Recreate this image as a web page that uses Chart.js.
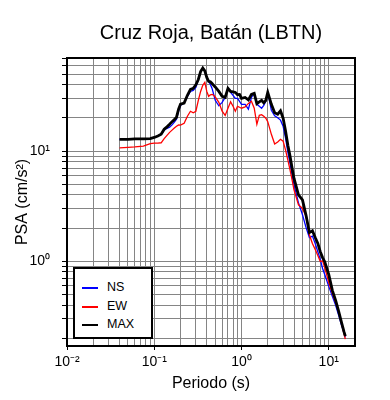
<!DOCTYPE html>
<html>
<head>
<meta charset="utf-8">
<script src="https://cdn.jsdelivr.net/npm/chart.js@4.4.1/dist/chart.umd.min.js"></script>
<style>
  body { margin: 0; background: #fff; }
  #contenedor { position: relative; width: 390px; height: 400px; }
  #leyenda {
    position: absolute; left: 73px; top: 267px; width: 80px; height: 72px;
    box-sizing: border-box; border: 2px solid #000; background: #fff;
    font: 12.5px "Liberation Sans", Arial, sans-serif; color: #000;
    padding-top: 11px;
  }
  #leyenda .fila { position: relative; height: 18.5px; }
  #leyenda .linea { position: absolute; left: 7px; top: 7px; width: 16px; }
  #leyenda .texto { position: absolute; left: 32px; top: 0; line-height: 15px; }
</style>
</head>
<body>
<div id="contenedor">
  <canvas id="graficoPSA" width="390" height="400"></canvas>
  <div id="leyenda"></div>
</div>
<script>
const periodos = [0.04, 0.05, 0.06, 0.075, 0.09, 0.10, 0.11, 0.12, 0.13, 0.14, 0.15, 0.16, 0.17, 0.18, 0.19, 0.20,
  0.22, 0.24, 0.26, 0.28, 0.30, 0.32, 0.34, 0.36, 0.38, 0.40, 0.42, 0.44, 0.46, 0.48, 0.50,
  0.55, 0.60, 0.65, 0.70, 0.75, 0.80, 0.85, 0.90, 0.95, 1.0,
  1.1, 1.2, 1.3, 1.4, 1.5, 1.6, 1.7, 1.8, 1.9, 2.0,
  2.2, 2.4, 2.6, 2.8, 3.0, 3.2, 3.4, 3.6, 3.8, 4.0,
  4.5, 5.0, 5.5, 6.0, 6.5, 7.0, 7.5, 8.0, 8.5, 9.0,
  10, 11, 12, 13, 14, 15, 15.5];

const psaNS = [12.8, 12.8, 12.9, 12.9, 13.0, 13.3, 13.7, 14.2, 15.5, 16.1, 16.5, 17.3, 18.3, 19.5, 23.0, 26.0,
  27.3, 31.4, 34.8, 35.6, 37.9, 44.7, 52.8, 56.8, 53.4, 46.6, 42.9, 40.3, 37.1, 32.7, 28.9,
  25.8, 27.7, 30.7, 37.1, 34.1, 32.1, 30.1, 30.1, 28.3, 26.6,
  26.6, 24.0, 30.7, 33.4, 26.6, 25.5, 24.5, 26.0, 28.3, 34.1,
  23.5, 20.9, 20.1, 19.1, 16.8, 13.1, 9.79, 7.79, 6.07, 4.93,
  3.39, 2.64, 2.02, 1.64, 1.69, 1.45, 1.22, 1.04, 0.859, 0.758,
  0.591, 0.480, 0.398, 0.323, 0.263, 0.222, 0.204];

const psaEW = [10.7, 10.8, 10.9, 11.1, 11.7, 11.8, 11.8, 11.9, 13.0, 13.9, 14.8, 15.5, 16.2, 16.8, 17.3, 17.2,
  17.9, 20.7, 23.0, 22.3, 23.0, 28.9, 34.8, 39.5, 42.0, 34.8, 31.4, 32.4, 32.7, 32.1, 31.1,
  27.7, 23.0, 21.1, 24.5, 28.0, 25.5, 23.0, 25.5, 25.0, 24.5,
  25.2, 27.1, 28.3, 24.5, 17.5, 21.1, 21.4, 20.7, 19.9, 18.5,
  14.2, 11.6, 12.1, 12.8, 12.3, 10.2, 8.29, 6.74, 5.47, 4.44,
  3.25, 3.02, 2.55, 1.74, 1.45, 1.28, 1.13, 0.994, 1.01, 0.877,
  0.642, 0.511, 0.424, 0.351, 0.274, 0.218, 0.196];

const psaMAX = [12.8, 12.8, 12.9, 12.9, 13.0, 13.3, 13.7, 14.2, 15.8, 16.6, 17.5, 18.5, 19.3, 20.3, 24.0, 26.7,
  27.3, 32.1, 36.3, 37.1, 39.9, 44.7, 52.8, 56.8, 53.4, 46.6, 42.9, 42.5, 41.1, 39.5, 38.2,
  34.8, 31.4, 30.7, 37.1, 34.8, 34.5, 34.1, 32.5, 32.7, 30.1,
  30.7, 29.2, 32.7, 33.4, 27.0, 28.0, 28.9, 27.4, 28.9, 34.1,
  26.6, 22.3, 21.6, 23.2, 19.9, 15.2, 11.3, 9.01, 7.02, 5.64,
  4.00, 3.61, 2.60, 1.82, 1.89, 1.64, 1.45, 1.22, 1.08, 0.99,
  0.758, 0.544, 0.442, 0.351, 0.279, 0.227, 0.209];

// ticks con etiqueta
const ticksX = [0.01, 0.1, 1, 10];
const etiquetasX = ['10\u207B\u00B2', '10\u207B\u00B9', '10\u2070', '10\u00B9'];
const ticksY = [1, 10];
const etiquetasY = ['10\u2070', '10\u00B9'];

// lineas de grilla en cada multiplo 1..9 de la decada
function grillaLog(min, max) {
  let valores = [];
  for (let d = -3; d <= 2; d++) {
    for (let m = 1; m <= 9; m++) {
      let v = parseFloat((m * Math.pow(10, d)).toPrecision(3));
      if (v >= min && v <= max) valores.push(v);
    }
  }
  return valores;
}

const fuente = '"Liberation Sans", Arial, Helvetica, sans-serif';

function serie(valores) {
  return periodos.map((t, i) => ({ x: t, y: valores[i] }));
}

const marco = {
  id: 'marco',
  afterDatasetsDraw(chart) {
    const { ctx, chartArea: a } = chart;
    ctx.save();
    ctx.strokeStyle = '#000';
    ctx.lineWidth = 2;
    ctx.strokeRect(a.left, a.top, a.right - a.left, a.bottom - a.top);
    ctx.restore();
  }
};

const ctxPSA = document.getElementById('graficoPSA');

let espectroChart = new Chart(ctxPSA, {
  type: 'line',
  data: {
    datasets: [{
      label: 'NS',
      data: serie(psaNS),
      borderColor: '#0000ff',
      borderWidth: 1.3,
      order: 2
    }, {
      label: 'EW',
      data: serie(psaEW),
      borderColor: '#ff0000',
      borderWidth: 1.3,
      order: 1
    }, {
      label: 'MAX',
      data: serie(psaMAX),
      borderColor: '#000000',
      borderWidth: 2.8,
      order: 0
    }]
  },
  options: {
    responsive: false,
    animation: false,
    devicePixelRatio: 1,
    layout: { padding: { left: 0, right: 35, top: 0, bottom: 0 } },
    elements: { point: { radius: 0 }, line: { tension: 0 } },
    plugins: {
      legend: { display: false },
      tooltip: { enabled: false },
      title: {
        display: true,
        fullSize: false,
        text: 'Cruz Roja, Batán (LBTN)',
        color: '#000',
        font: { family: fuente, size: 20, weight: 'normal' },
        padding: { top: 21, bottom: 13 }
      }
    },
    scales: {
      x: {
        type: 'logarithmic',
        min: 0.01,
        max: 20,
        afterFit: s => { s.height = 54; },
        afterBuildTicks: s => { s.ticks = grillaLog(0.01, 20).map(v => ({ value: v })); },
        border: { display: false },
        grid: {
          color: '#858585',
          lineWidth: 1,
          tickLength: 4,
          tickColor: c => ticksX.includes(c.tick.value) ? '#000' : 'rgba(0,0,0,0)'
        },
        ticks: {
          autoSkip: false,
          maxRotation: 0,
          padding: 4,
          color: '#000',
          font: { family: fuente, size: 14 },
          callback: v => {
            let i = ticksX.indexOf(v);
            return i >= 0 ? etiquetasX[i] : '';
          }
        },
        title: {
          display: true,
          text: 'Periodo (s)',
          color: '#000',
          font: { family: fuente, size: 16 },
          padding: { top: 0, bottom: 7 }
        }
      },
      y: {
        type: 'logarithmic',
        min: 0.17,
        max: 70,
        afterFit: s => { s.width = 67; },
        afterBuildTicks: s => { s.ticks = grillaLog(0.17, 70).map(v => ({ value: v })); },
        border: { display: false },
        grid: {
          color: '#858585',
          lineWidth: 1,
          tickLength: 5,
          tickColor: '#000'
        },
        ticks: {
          autoSkip: false,
          padding: 12,
          color: '#000',
          font: { family: fuente, size: 14 },
          callback: v => {
            let i = ticksY.indexOf(v);
            return i >= 0 ? etiquetasY[i] : '';
          }
        },
        title: {
          display: true,
          text: 'PSA (cm/s²)',
          color: '#000',
          font: { family: fuente, size: 16 },
          padding: { top: 13, bottom: 0 }
        }
      }
    }
  },
  plugins: [marco]
});

// leyenda dentro del grafico
function armarLeyenda(chart) {
  let html = '';
  chart.data.datasets.forEach(ds => {
    html += '<div class="fila">';
    html += '<span class="linea" style="border-top:2px solid ' + ds.borderColor + '"></span>';
    html += '<span class="texto">' + ds.label + '</span>';
    html += '</div>';
  });
  document.getElementById('leyenda').innerHTML = html;
}
armarLeyenda(espectroChart);
</script>
</body>
</html>
